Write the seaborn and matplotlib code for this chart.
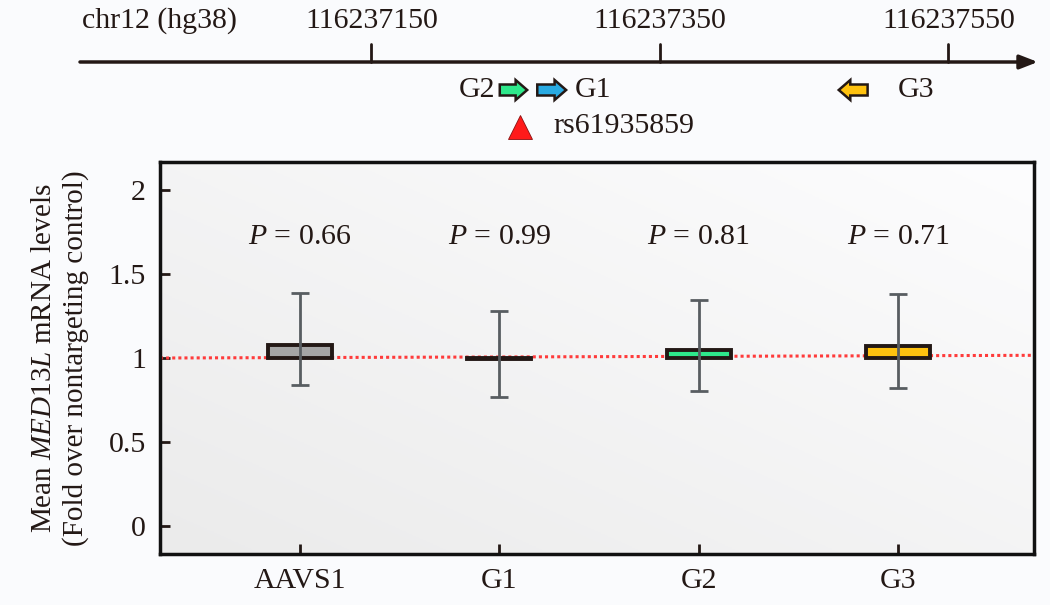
import numpy as np
import pandas as pd
import matplotlib
matplotlib.use("Agg")
import matplotlib.pyplot as plt
from matplotlib.patches import FancyArrow
import seaborn as sns

# guide RNAs and fold-change values
groups = ["AAVS1", "G1", "G2", "G3"]
mean_fold = [1.08, 0.995, 1.045, 1.07]
err_low = [0.84, 0.77, 0.805, 0.82]
err_high = [1.39, 1.28, 1.345, 1.38]
p_values = ["0.66", "0.99", "0.81", "0.71"]
bar_colors = ["#a5a5a5", "#231815", "#2ee88b", "#ffc20f"]
ref_line_y = [1.0, 1.016]

# genomic track
chrom_label = "chr12 (hg38)"
track_start = 116236948
track_end = 116237612
track_ticks = [116237150, 116237350, 116237550]
guide_names = ["G2", "G1", "G3"]
guide_start = [116237239, 116237265, 116237494]
guide_end = [116237258, 116237285, 116237474]
guide_colors = ["#2ee88b", "#29aae2", "#ffc20f"]
snp_name = "rs61935859"
snp_pos = 116237253

ink = "#231815"
fs = 21.5
sns.set_theme(style="white")
plt.rcParams["font.family"] = ["Liberation Serif", "DejaVu Serif"]
plt.rcParams["mathtext.fontset"] = "custom"
plt.rcParams["mathtext.rm"] = "Liberation Serif"
plt.rcParams["mathtext.it"] = "Liberation Serif:italic"

fig = plt.figure(figsize=(10.5, 6.05), dpi=100, facecolor="#fafbfd")

# ---- top genomic track (y in pixels from top) ----
px_per_bp = 1.4425
tax = fig.add_axes([0, 1 - 145 / 605, 1, 145 / 605])
tax.set_xlim(track_start - 80 / px_per_bp, track_start + 970 / px_per_bp)
tax.set_ylim(145, 0)
tax.axis("off")

tax.annotate("", xy=(track_end, 62), xytext=(track_start, 62),
             arrowprops=dict(arrowstyle="-|>,head_length=0.9,head_width=0.35",
                             lw=2.5, color=ink, shrinkA=0, shrinkB=0))
for t in track_ticks:
    tax.plot([t, t], [44, 62], color=ink, lw=2)
    tax.text(t, 21, str(t), ha="center", va="center", fontsize=fs, color=ink)
tax.text(track_start + 2 / px_per_bp, 21, chrom_label, ha="left", va="center",
         fontsize=fs, color=ink)

for name, s, e, c in zip(guide_names, guide_start, guide_end, guide_colors):
    tax.add_patch(FancyArrow(s, 90, e - s, 0, width=11, head_width=20,
                             head_length=8, length_includes_head=True,
                             fc=c, ec=ink, lw=1.8))
tax.text(guide_start[0] - 3, 90, guide_names[0], ha="right", va="center", fontsize=fs, color=ink)
tax.text(guide_end[1] + 6, 90, guide_names[1], ha="left", va="center", fontsize=fs, color=ink)
tax.text(guide_start[2] + 21, 90, guide_names[2], ha="left", va="center", fontsize=fs, color=ink)

tax.plot(snp_pos, 127, marker="^", ms=17, color="#ff1a1a", mec="#8a1010", mew=0.6)
tax.text(snp_pos + 23, 126, snp_name, ha="left", va="center", fontsize=fs, color=ink)

# ---- bar chart ----
ax = fig.add_axes([160 / 1050, 1 - 554 / 605, 874 / 1050, 392 / 605])

# soft gray gradient background
grad = np.linspace(0, 1, 256)
gx, gy = np.meshgrid(grad, grad)
ax.imshow(0.5 * gx + 0.5 * gy, extent=[0, 1, 0, 1], transform=ax.transAxes,
          cmap=matplotlib.colors.LinearSegmentedColormap.from_list("bg", ["#ebebeb", "#fdfdfe"]),
          aspect="auto", origin="lower", zorder=0)

df = pd.DataFrame({"group": groups, "mean": mean_fold})
df["delta"] = df["mean"] - 1

ax.plot([-0.7, 3.68], ref_line_y, color="#ff3b3b", ls=(0, (1, 1)), lw=2.2, zorder=1)

sns.barplot(data=df, x="group", y="delta", hue="group", palette=bar_colors,
            saturation=1, bottom=1, width=0.32, edgecolor=ink, linewidth=2.8,
            legend=False, ax=ax, zorder=2)

xs = np.arange(len(groups))
yerr = [np.array(mean_fold) - np.array(err_low), np.array(err_high) - np.array(mean_fold)]
ax.errorbar(xs, mean_fold, yerr=yerr, fmt="none", ecolor="#585d61",
            elinewidth=2, capsize=6.5, capthick=2, zorder=3)

for x, p in zip(xs, p_values):
    ax.text(x, 1.72, f"$P$ = {p}", ha="center", va="center", fontsize=fs, color=ink)

ax.set_xlim(-0.7, 3.68)
ax.set_ylim(-0.17, 2.17)
ax.set_yticks([0, 0.5, 1, 1.5, 2])
ax.set_yticklabels(["0", "0.5", "1", "1.5", "2"])
ax.set_xlabel("")
ax.set_ylabel("Mean $\\mathit{MED13L}$ mRNA levels\n(Fold over nontargeting control)",
              fontsize=21, color=ink, labelpad=14, linespacing=1.25)
ax.tick_params(direction="in", length=7, width=2, colors=ink, labelsize=fs,
               pad=10, bottom=True, left=True)
for sp in ax.spines.values():
    sp.set_color("#111111")
    sp.set_linewidth(2.5)
    sp.set_visible(True)

plt.savefig("out.png", dpi=100, facecolor=fig.get_facecolor())
